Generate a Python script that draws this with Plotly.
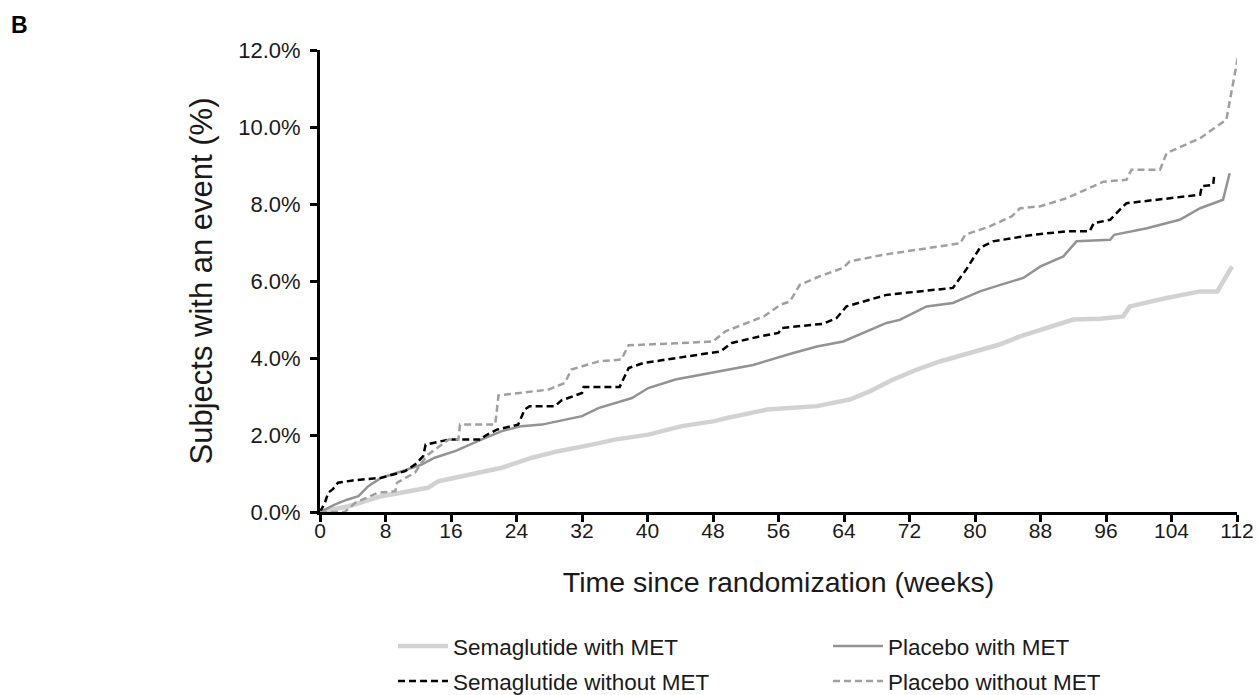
import plotly.graph_objects as go

# Semaglutide with MET
sema_met_w = [0, 3.5, 7.5, 9.6, 13.2, 14.5, 18.1, 22.2, 25.9, 29.1, 33.2, 36.0, 40.1, 44.2, 48.2, 49.7, 54.6,
              60.7, 64.7, 67.2, 70.0, 72.9, 75.7, 79.8, 83.0, 85.5, 88.3, 91.2, 92.0, 95.3, 98.1, 98.9, 103.4,
              107.5, 109.6, 111.4]
sema_met_p = [0, 0.15, 0.41, 0.5, 0.63, 0.80, 0.97, 1.15, 1.41, 1.58, 1.75, 1.88, 2.01, 2.23, 2.36, 2.44, 2.66,
              2.75, 2.92, 3.14, 3.44, 3.70, 3.91, 4.17, 4.35, 4.56, 4.74, 4.95, 5.00, 5.02, 5.08, 5.34, 5.56,
              5.73, 5.73, 6.38]

# Placebo with MET
plac_met_w = [0, 1.8, 3.3, 4.7, 5.9, 7.5, 10.0, 12.4, 14.0, 16.5, 19.7, 22.2, 24.6, 27.1, 32.0, 34.0, 38.1,
              40.1, 43.4, 48.5, 52.9, 57.8, 60.7, 63.9, 66.8, 69.2, 70.8, 74.1, 77.3, 80.6, 83.1, 85.9, 88.0,
              90.8, 92.4, 96.5, 97.0, 101.0, 105.0, 107.5, 110.3, 111.1]
plac_met_p = [0, 0.19, 0.32, 0.41, 0.67, 0.89, 1.06, 1.23, 1.41, 1.58, 1.88, 2.10, 2.23, 2.27, 2.49, 2.70, 2.96,
              3.22, 3.44, 3.65, 3.82, 4.13, 4.30, 4.43, 4.69, 4.91, 4.99, 5.34, 5.43, 5.73, 5.90, 6.08, 6.38,
              6.64, 7.03, 7.07, 7.20, 7.37, 7.59, 7.89, 8.11, 8.80]

# Semaglutide without MET
sema_nomet_w = [0, 0.6, 1.0, 1.6, 2.2, 4, 7.5, 8.8, 10.4, 11.6, 12.6, 12.9, 15.7, 19.7, 20.1, 21.6, 24.2, 25.0,
                25.6, 28.7, 29.5, 32.0, 32.2, 36.6, 37.7, 39.5, 42.1, 46.4, 48.9, 50.3, 53.7, 56.0, 56.4, 61.5,
                63.1, 64.3, 69.2, 74.9, 77.3, 78.9, 80.6, 82.2, 87.1, 91.2, 94.0, 94.5, 96.5, 98.1, 98.5, 107.5,
                107.7, 109.1, 109.2]
sema_nomet_p = [0, 0.24, 0.5, 0.6, 0.76, 0.82, 0.89, 0.97, 1.06, 1.23, 1.45, 1.75, 1.88, 1.88, 1.97, 2.14, 2.27,
                2.66, 2.75, 2.75, 2.9, 3.09, 3.25, 3.25, 3.74, 3.87, 3.96, 4.09, 4.17, 4.39, 4.56, 4.65, 4.78,
                4.89, 5.04, 5.34, 5.64, 5.77, 5.82, 6.29, 6.86, 7.03, 7.20, 7.29, 7.29, 7.50, 7.59, 7.94, 8.02,
                8.24, 8.46, 8.50, 8.72]

# Placebo without MET
plac_nomet_w = [0, 3.0, 4.3, 7.1, 9.2, 9.4, 11.6, 12.4, 13.2, 14.0, 15.7, 16.9, 17.1, 21.4, 21.8, 27.9, 29.9,
                30.7, 34.0, 36.8, 37.7, 44.2, 48.0, 49.5, 52.1, 54.2, 56.2, 57.4, 58.6, 61.0, 63.9, 64.7, 68.8,
                74.1, 78.2, 78.8, 81.8, 84.5, 85.5, 88.0, 91.2, 95.7, 98.5, 99.1, 102.6, 103.4, 107.5, 110.7, 112.2]
plac_nomet_p = [0, 0, 0.24, 0.5, 0.54, 0.76, 1.02, 1.28, 1.49, 1.62, 1.88, 1.88, 2.27, 2.27, 3.03, 3.18, 3.35,
                3.70, 3.91, 3.96, 4.33, 4.39, 4.43, 4.69, 4.91, 5.08, 5.38, 5.47, 5.90, 6.12, 6.34, 6.51, 6.68,
                6.85, 6.98, 7.20, 7.42, 7.68, 7.89, 7.94, 8.15, 8.58, 8.63, 8.89, 8.89, 9.32, 9.71, 10.19, 11.92]

x_ticks = [0, 8, 16, 24, 32, 40, 48, 56, 64, 72, 80, 88, 96, 104, 112]
y_ticks = [0, 2, 4, 6, 8, 10, 12]
y_tick_text = ["0.0%", "2.0%", "4.0%", "6.0%", "8.0%", "10.0%", "12.0%"]

FONT = "Liberation Sans, Arial, sans-serif"
TXT = "#1a1a1a"

# plot area in pixels: x 320..1237, y 50..512.5
PW, PH = 917.0, 462.5


def px_x(p):
    return (p - 320) / PW


def px_y(p):
    return (512.5 - p) / PH


fig = go.Figure()
fig.add_trace(go.Scatter(x=sema_met_w, y=sema_met_p, mode="lines", name="Semaglutide with MET",
                         line=dict(color="#d2d2d2", width=4.5), legend="legend", showlegend=True))
fig.add_trace(go.Scatter(x=plac_met_w, y=plac_met_p, mode="lines", name="Placebo with MET",
                         line=dict(color="#939393", width=2.5), legend="legend2", showlegend=True))
fig.add_trace(go.Scatter(x=sema_nomet_w, y=sema_nomet_p, mode="lines", name="Semaglutide without MET",
                         line=dict(color="#000000", width=2.5, dash="7px,4px"), legend="legend3", showlegend=True))
fig.add_trace(go.Scatter(x=plac_nomet_w, y=plac_nomet_p, mode="lines", name="Placebo without MET",
                         line=dict(color="#a0a0a0", width=2.5, dash="7px,4px"), legend="legend4", showlegend=True))

leg_common = dict(orientation="h", xanchor="left", yanchor="middle",
                  font=dict(family=FONT, size=22.5, color=TXT), bgcolor="rgba(0,0,0,0)", itemwidth=50)

col1, col2 = px_x(400 - 7), px_x(835 - 7)
row1, row2 = px_y(647), px_y(682)

fig.update_layout(
    width=1259, height=695,
    showlegend=True,
    margin=dict(l=320, r=22, t=50, b=182.5, autoexpand=False),
    paper_bgcolor="white", plot_bgcolor="white",
    font=dict(family=FONT, color=TXT),
    legend=dict(x=col1, y=row1, **leg_common),
    legend2=dict(x=col2, y=row1, **leg_common),
    legend3=dict(x=col1, y=row2, **leg_common),
    legend4=dict(x=col2, y=row2, **leg_common),
    xaxis=dict(range=[0, 112], tickvals=x_ticks, showgrid=False, zeroline=False,
               showline=True, linecolor="black", linewidth=3,
               ticks="outside", ticklen=7, tickwidth=3, tickcolor="black",
               ticklabelstandoff=-9,
               tickfont=dict(family=FONT, size=21, color=TXT),
               title=dict(text="Time since randomization (weeks)", font=dict(family=FONT, size=28.5, color=TXT),
                          standoff=31),
               automargin=False),
    yaxis=dict(range=[0, 12], tickvals=y_ticks, ticktext=y_tick_text, showgrid=False, zeroline=False,
               showline=True, linecolor="black", linewidth=3,
               ticks="outside", ticklen=7, tickwidth=3, tickcolor="black",
               ticklabelstandoff=5,
               tickfont=dict(family=FONT, size=22, color=TXT),
               title=dict(text="Subjects with an event (%)", font=dict(family=FONT, size=31, color=TXT),
                          standoff=17),
               automargin=False),
    annotations=[dict(text="<b>B</b>", x=px_x(9), y=px_y(25), xref="paper", yref="paper", showarrow=False,
                      font=dict(family=FONT, size=23, color="black"), xanchor="left", yanchor="middle")],
)

fig.write_html("out.html")
